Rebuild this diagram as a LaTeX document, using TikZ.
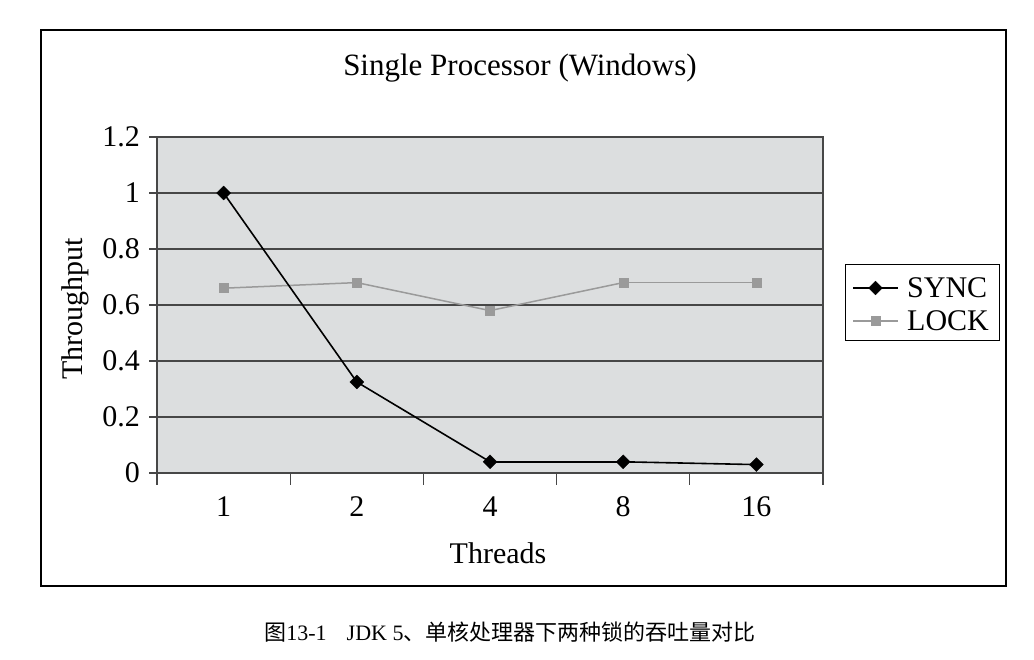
\documentclass[tikz,border=0pt]{standalone}
\usepackage{fontspec}
\setmainfont{Liberation Serif}
\newfontfamily\cjk{Noto Sans CJK SC}
\usetikzlibrary{shapes.geometric,positioning,calc}
\definecolor{plotgray}{HTML}{DCDEDF}
\definecolor{lockgray}{HTML}{9A9A9A}
\definecolor{gridgray}{HTML}{474747}
\tikzset{
  syncmark/.style={diamond,draw=black,fill=black,inner sep=0pt,minimum size=14pt},
  lockmark/.style={rectangle,draw=lockgray,fill=lockgray,inner sep=0pt,minimum size=9pt},
  ticklab/.style={inner sep=0pt,font=\fontsize{30}{34}\selectfont},
  synclink/.style={black,line width=1.6pt},
  locklink/.style={lockgray,line width=1.5pt}
}
\begin{document}
\begin{tikzpicture}[x=1pt,y=-1pt]
\useasboundingbox (0,0) rectangle (1034,660);
% outer frame and plot area
\draw[line width=1.2pt] (41,30) rectangle (1006,586);
\fill[plotgray] (157,137) rectangle (823,473);
\foreach \v/\lab in {0/0,1/0.2,2/0.4,3/0.6,4/0.8,5/1,6/1.2}{
  \draw[gridgray,line width=1.2pt] (149,473-\v*56) -- (823,473-\v*56);
  \draw (140,473-\v*56) node[ticklab,anchor=east] (Y\v) {\lab};
}
\draw[gridgray,line width=1.2pt] (157,137) rectangle (823,473);
\foreach \k in {0,...,5}
  \draw[gridgray,line width=1.2pt] (157+\k*133.2,473) -- (157+\k*133.2,485);
\foreach \k/\lab in {1/1,2/2,3/4,4/8,5/16}
  \draw (157+\k*133.2-66.6,507) node[ticklab] (X\k) {\lab};
\draw (520,68) node[inner sep=0pt,font=\fontsize{31}{36}\selectfont] (Title) {Single Processor (Windows)};
\draw (498,553) node[ticklab] (XName) {Threads};
\draw (75,309) node[ticklab,rotate=90] (YName) {Throughput};
% data points
\foreach \k/\s/\l in {1/1/0.66,2/0.325/0.68,3/0.04/0.58,4/0.04/0.68,5/0.03/0.68}{
  \coordinate (S\k) at (157+\k*133.2-66.6,473-\s*280);
  \coordinate (L\k) at (157+\k*133.2-66.6,473-\l*280);
}
\foreach \i/\j in {1/2,2/3,3/4,4/5}{
  \draw[locklink] (L\i) -- (L\j);
  \draw[synclink] (S\i) -- (S\j);
}
\foreach \k in {1,...,5}{
  \node[lockmark] (Lm\k) at (L\k) {};
  \node[syncmark] (Sm\k) at (S\k) {};
}
% legend
\draw[line width=1pt] (845,265) rectangle (999,341);
\coordinate (SA) at (853,288);
\coordinate (SB) at (898,288);
\coordinate (LA) at (853,321);
\coordinate (LB) at (898,321);
\draw[synclink] (SA) -- (SB);
\draw[locklink] (LA) -- (LB);
\node[syncmark] (SLeg) at ($(SA)!0.5!(SB)$) {};
\node[lockmark] (LLeg) at ($(LA)!0.5!(LB)$) {};
\draw (907,288) node[ticklab,anchor=west] (SText) {SYNC};
\draw (907,321) node[ticklab,anchor=west] (LText) {LOCK};
% caption
\draw (510,632) node[inner sep=0pt,font=\fontsize{22}{26}\selectfont] (Cap)
  {{\cjk 图}13-1\hspace{20pt}JDK 5{\cjk 、单核处理器下两种锁的吞吐量对比}};
\end{tikzpicture}
\end{document}
